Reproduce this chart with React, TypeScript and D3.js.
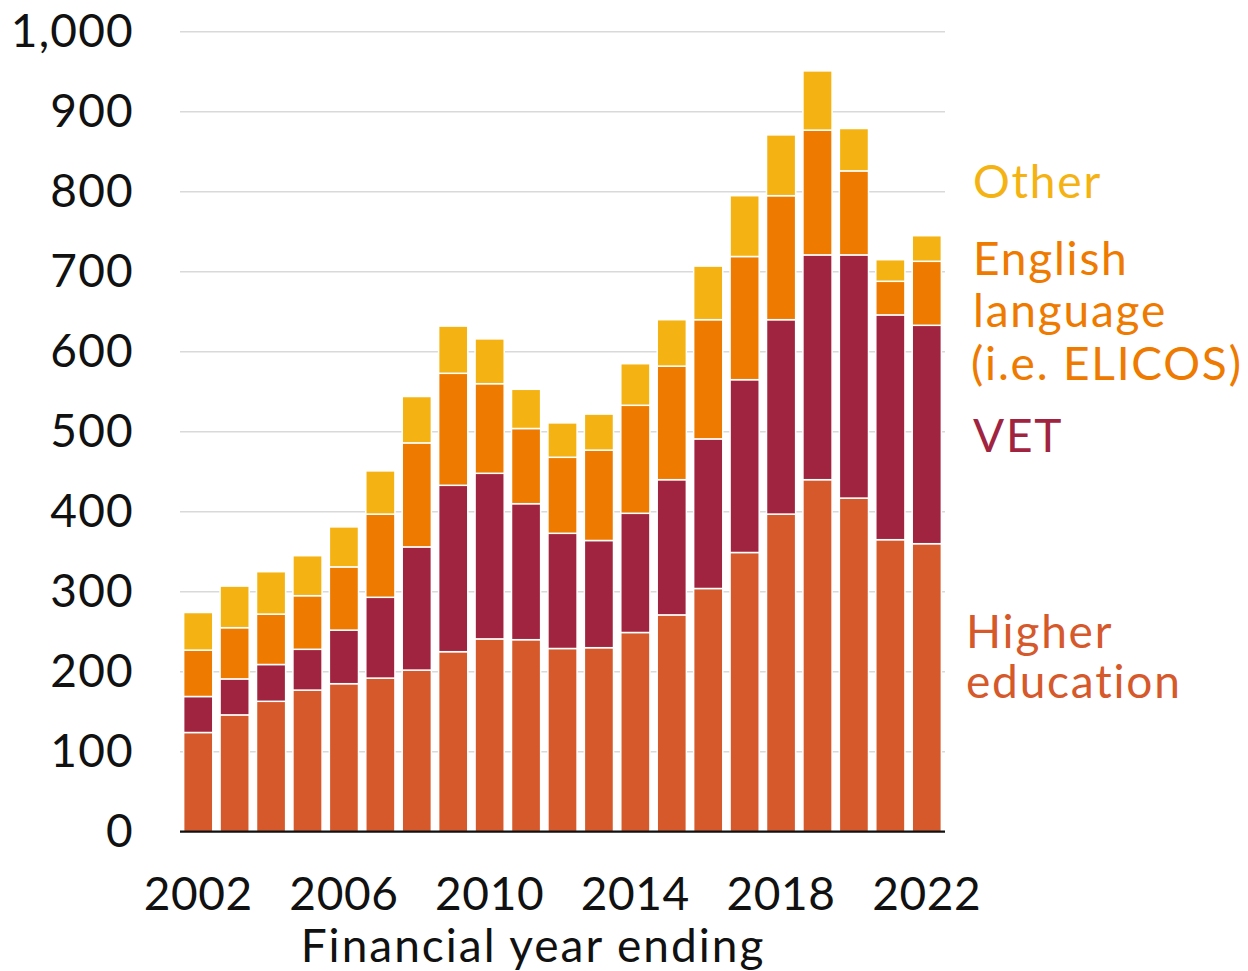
import React from "react";
import * as d3 from "d3";

const years = [2002, 2003, 2004, 2005, 2006, 2007, 2008, 2009, 2010, 2011, 2012, 2013, 2014, 2015, 2016, 2017, 2018, 2019, 2020, 2021, 2022];
const higherEd = [124, 146, 163, 177, 185, 192, 202, 225, 241, 240, 229, 230, 249, 271, 304, 349, 397, 440, 417, 365, 360];
const vet = [45, 45, 46, 51, 67, 101, 154, 208, 207, 170, 144, 134, 149, 169, 187, 216, 243, 281, 304, 281, 273];
const english = [58, 64, 63, 67, 79, 104, 130, 140, 112, 94, 95, 113, 135, 142, 149, 154, 155, 156, 105, 42, 80];
const other = [47, 52, 53, 50, 50, 54, 58, 59, 56, 49, 43, 45, 52, 58, 67, 76, 76, 74, 53, 27, 32];
const yTicks = [0, 100, 200, 300, 400, 500, 600, 700, 800, 900, 1000];
const xTickYears = [2002, 2006, 2010, 2014, 2018, 2022];
const seriesKeys = ["he", "vet", "eng", "other"];
const seriesColors: Record<string, string> = { he: "#D5592B", vet: "#A0243F", eng: "#EE7A00", other: "#F4B312" };

const W = 1248, H = 971;
const FONT = "Lato, 'Open Sans', sans-serif";

export default function App() {
  const x = d3.scaleBand<number>().domain(years).range([180, 945]).paddingInner(0.2).paddingOuter(0.1);
  const y = d3.scaleLinear().domain([0, 1000]).range([831.7, 31.7]);
  const rows = years.map((yr, i) => ({ year: yr, he: higherEd[i], vet: vet[i], eng: english[i], other: other[i] }));
  const stacked = d3.stack<any>().keys(seriesKeys)(rows);

  return (
    <svg width={W} height={H} style={{ position: "absolute", left: 0, top: 0, background: "#fff" }} fontFamily={FONT}>
      {yTicks.map((t) => (
        <g key={t}>
          {t > 0 && <line x1={180} x2={945} y1={y(t)} y2={y(t)} stroke="#d9d9d9" strokeWidth={1.6} />}
          <text x={134} y={y(t)} dy="0.34em" textAnchor="end" fontSize={46} letterSpacing={1.2} fill="#111">
            {d3.format(",")(t)}
          </text>
        </g>
      ))}
      {stacked.map((s) => (
        <g key={s.key} fill={seriesColors[s.key]}>
          {s.map((d: any, i: number) => (
            <rect key={i} x={x(d.data.year)} width={x.bandwidth()} y={y(d[1])} height={y(d[0]) - y(d[1])} stroke="#fff" strokeWidth={1.5} />
          ))}
        </g>
      ))}
      <line x1={180} x2={945} y1={y(0)} y2={y(0)} stroke="#111" strokeWidth={2.2} />
      {xTickYears.map((yr) => (
        <text key={yr} x={(x(yr) as number) + x.bandwidth() / 2} y={910} textAnchor="middle" fontSize={46} letterSpacing={0.6} fill="#111">
          {yr}
        </text>
      ))}
      <text x={533} y={962} textAnchor="middle" fontSize={46} letterSpacing={2} fill="#111">Financial year ending</text>
      <g fontSize={46} letterSpacing={1.8}>
        <text x={973} y={198} fill={seriesColors.other}>Other</text>
        <text fill={seriesColors.eng}>
          <tspan x={973} y={275}>English</tspan>
          <tspan x={973} y={327}>language</tspan>
          <tspan x={971} y={380}>(i.e. ELICOS)</tspan>
        </text>
        <text x={973} y={452} fill={seriesColors.vet}>VET</text>
        <text fill={seriesColors.he}>
          <tspan x={966} y={648}>Higher</tspan>
          <tspan x={966} y={698}>education</tspan>
        </text>
      </g>
    </svg>
  );
}
